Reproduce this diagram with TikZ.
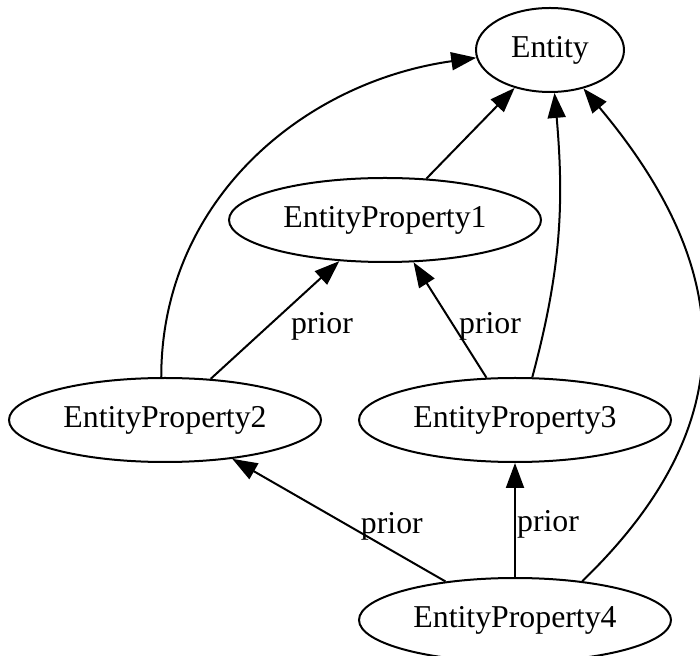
\documentclass[tikz,border=0pt]{standalone}
\usepackage{fontspec}
\setmainfont{Liberation Serif}
\usetikzlibrary{arrows.meta,shapes.geometric}

\begin{document}
\begin{tikzpicture}[
    x=0.5pt, y=0.5pt,
    entnode/.style={draw, ellipse, line width=1pt, inner sep=0pt, minimum width=156pt, minimum height=42pt, font=\fontsize{15.9}{19}\selectfont},
    arrow/.style={-{Triangle[length=12.5pt,width=9pt]}, line width=1pt},
    lbl/.style={font=\fontsize{15.9}{19}\selectfont, inner sep=0pt}
  ]
  \useasboundingbox (0,0) rectangle (700,-656);
  \node[entnode, minimum width=74pt] (entity) at (550,-50) {Entity};
  \node[entnode] (prop1) at (385,-220) {EntityProperty1};
  \node[entnode] (prop2) at (165,-420) {EntityProperty2};
  \node[entnode] (prop3) at (515,-420) {EntityProperty3};
  \node[entnode] (prop4) at (515,-620) {EntityProperty4};
  \draw[arrow] (prop1.45) -- (entity.-133);
  \draw[arrow] (prop2.95) to[out=90, in=188] (entity.186);
  \draw[arrow] (prop2.42) -- node[lbl, xshift=23.5pt, yshift=-3pt] {prior} (prop1.222);
  \draw[arrow] (prop3.124) -- node[lbl, xshift=20pt, yshift=-3pt] {prior} (prop1.-56);
  \draw[arrow] (prop3.68) to[out=75, in=-85] (entity.-84);
  \draw[arrow] (prop4.151) -- node[lbl, xshift=26.5pt, yshift=-3pt] {prior} (prop2.-30);
  \draw[arrow] (prop4) -- node[lbl, xshift=16.5pt, yshift=-2pt] {prior} (prop3);
  \draw[arrow] (prop4.30) to[out=44, in=-50, looseness=1.2] (entity.-49);
\end{tikzpicture}
\end{document}
